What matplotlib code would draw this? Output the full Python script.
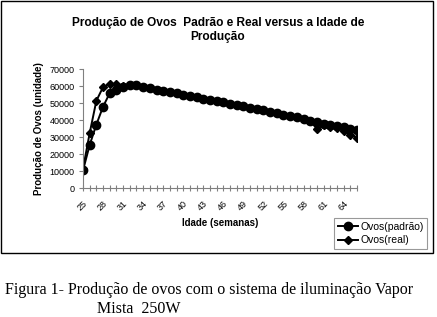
import matplotlib
matplotlib.use("Agg")
import matplotlib.pyplot as plt
from matplotlib.patches import Rectangle

weeks = list(range(25, 67))
padrao = [10500, 25500, 37500, 48000, 56000, 58000, 59300, 60700, 60700, 59500,
          58900, 58100, 57300, 56600, 55800, 55100, 54300, 53600, 52800, 52000,
          51300, 50500, 49700, 49000, 48200, 47400, 46600, 45800, 45000, 44200,
          43400, 42600, 41700, 40800, 39800, 38800, 38000, 37200, 36500, 35900,
          35000, 34200]
real = [11500, 32500, 51500, 59500, 61500, 61300, 60000, 60700, 60500, 59500,
        58900, 58100, 57300, 56600, 55800, 55100, 54300, 53600, 52800, 52000,
        51300, 50500, 49700, 49000, 48200, 47400, 46600, 45800, 45000, 44200,
        43400, 42600, 41700, 40800, 39500, 35000, 37000, 36300, 35500, 33700,
        31500, 29800]
yticks = [0, 10000, 20000, 30000, 40000, 50000, 60000, 70000]
label_step = 3

W, H = 437, 317
plt.rcParams['font.family'] = ['Liberation Sans', 'DejaVu Sans']
fig = plt.figure(figsize=(W / 100, H / 100), dpi=100)

# chart area border
fig.patches.append(Rectangle((0.5 / W, 1 - 253 / H), 432 / W, 252 / H,
                             transform=fig.transFigure, fill=False,
                             edgecolor='black', linewidth=1.0))

ax = fig.add_axes([83 / W, 1 - 188.3 / H, (357 - 83) / W, 119 / H])
ax.plot(weeks, padrao, color='black', linewidth=1.4, marker='o', markersize=6,
        label='Ovos(padrão)')
ax.plot(weeks, real, color='black', linewidth=1.4, marker='D', markersize=4.2,
        label='Ovos(real)')

ax.set_xlim(weeks[0], weeks[-1])
ax.set_ylim(yticks[0], yticks[-1])
ax.set_yticks(yticks)
ax.set_yticklabels([str(v) for v in yticks], fontsize=6.5)
ax.set_xticks(weeks)
ax.set_xticklabels([str(w) if (w - weeks[0]) % label_step == 0 else '' for w in weeks],
                   fontsize=6.5, rotation=45, ha='right', va='top',
                   rotation_mode='anchor')
for s in ['top', 'right']:
    ax.spines[s].set_visible(False)
for s in ['left', 'bottom']:
    ax.spines[s].set_color('#808080')
    ax.spines[s].set_linewidth(0.8)
ax.tick_params(axis='y', direction='out', length=3, color='#808080', pad=3)
ax.tick_params(axis='x', direction='inout', length=5, color='#808080', pad=5)
ax.set_ylabel('Produção de Ovos (unidade)', fontsize=7, fontweight='bold', labelpad=4)
ax.set_xlabel('Idade (semanas)', fontsize=7, fontweight='bold', labelpad=4)
ax.patch.set_alpha(0)

fig.text(218 / W, 1 - 30 / H,
         'Produção de Ovos  Padrão e Real versus a Idade de\nProdução',
         ha='center', va='center', multialignment='center',
         fontsize=8.6, fontweight='bold', linespacing=1.25)

leg = fig.legend(loc='upper left', bbox_to_anchor=(334 / W, 1 - 218 / H),
                 fontsize=7.5, frameon=True, fancybox=False, borderaxespad=0,
                 handlelength=2.0, handletextpad=0.15, borderpad=0.35,
                 labelspacing=0.35)
leg.get_frame().set_edgecolor('#808080')
leg.get_frame().set_linewidth(0.8)

fig.text(5 / W, 1 - 294 / H,
         'Figura 1- Produção de ovos com o sistema de iluminação Vapor',
         ha='left', va='baseline', fontsize=11.5, family='Liberation Serif')
fig.text(97 / W, 1 - 313 / H, 'Mista  250W',
         ha='left', va='baseline', fontsize=11.5, family='Liberation Serif')

fig.savefig('out.png', dpi=100)
